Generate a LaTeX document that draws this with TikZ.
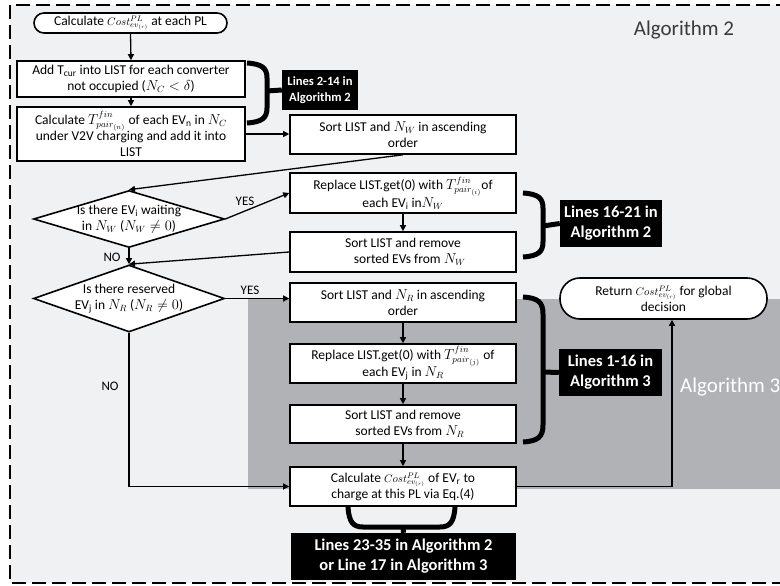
\documentclass[tikz,border=0pt]{standalone}
\usepackage{fontspec}
\setmainfont{Carlito}
\usetikzlibrary{arrows.meta,shapes.geometric,calc}
\definecolor{bgl}{HTML}{F0F1F3}
\definecolor{alg3}{HTML}{B1B2B6}
\definecolor{algtxt}{HTML}{3A3A3A}
\newcommand{\costr}{{\fontsize{11}{13}\selectfont$Cost^{PL}_{ev_{(r)}}$}}
\begin{document}
\begin{tikzpicture}[x=1pt,y=-1pt,
  every node/.style={font=\fontsize{13.5}{16}\selectfont},
  box/.style={draw=black,line width=1.6pt,fill=white,rectangle,align=center,inner sep=0pt,minimum width=226pt},
  pill/.style={draw=black,line width=1.6pt,fill=white,rounded corners=10pt,align=center,inner sep=0pt},
  dia/.style={draw=black,line width=1.6pt,fill=white,diamond,inner sep=0pt,minimum width=191pt},
  dtext/.style={align=center,inner sep=0pt},
  lbl/.style={fill=black,text=white,align=center,inner sep=0pt},
  lbla/.style={lbl,font=\fontsize{12.6}{16}\selectfont\bfseries},
  lblb/.style={lbl,font=\fontsize{16.5}{20}\selectfont\bfseries},
  arr/.style={draw=black,line width=1.3pt,-{Triangle[length=6pt,width=6pt]}},
  brc/.style={draw=black,line width=5pt},
  yn/.style={inner sep=0pt,font=\fontsize{13}{15}\selectfont}
]
\useasboundingbox (0,0) rectangle (780,586);
% background
\fill[bgl] (10,5) rectangle (790,583);
\fill[alg3] (248,298.5) rectangle (790,489);
\draw[line width=2pt,dash pattern=on 14pt off 6pt] (790,5) -- (10,5) -- (10,583) -- (790,583);
\node[anchor=center,text=algtxt,font=\fontsize{21}{24}\selectfont] (a2) at (684,30) {Algorithm 2};
\node[anchor=west,text=white,font=\fontsize{21}{24}\selectfont,inner sep=0pt] (a3) at (680,387) {Algorithm 3};

% nodes
\node[pill,minimum width=193pt,minimum height=20pt] (start) at (130.5,23) {Calculate \costr\ at each PL};
\node[box,minimum width=228pt,minimum height=36pt] (b2) at (131,79) {Add T\textsubscript{cur} into LIST for each converter\\ not occupied ($N_C<\delta$)};
\node[box,minimum width=228pt,minimum height=54pt] (b3) at (131,134) {Calculate $T^{fin}_{pair_{(n)}}$ of each EV\textsubscript{n} in $N_C$\\ under V2V charging and add it into\\ LIST};
\node[box,minimum height=39pt] (sortW) at (403,134.5) {Sort LIST and $N_W$ in ascending\\ order};
\node[dia,minimum height=57pt] (d1) at (129,219) {};
\node[dtext] at (d1) {Is there EV\textsubscript{i} waiting\\ in $N_W$ ($N_W\neq 0$)};
\node[box,minimum height=40pt] (replW) at (403,193) {Replace LIST.get(0) with $T^{fin}_{pair_{(i)}}$of\\ each EV\textsubscript{i} in$N_W$};
\node[box,minimum height=40pt] (remW) at (403,252) {Sort LIST and remove\\ \quad sorted EVs from $N_W$};
\node[dia,minimum height=67pt] (d2) at (129,298.5) {};
\node[dtext] at (d2) {Is there reserved\\ EV\textsubscript{j} in $N_R$ ($N_R\neq 0$)};
\node[box,minimum height=39pt] (sortR) at (403,302.5) {Sort LIST and $N_R$ in ascending\\ order};
\node[box,minimum height=39pt] (replR) at (403,363.5) {Replace LIST.get(0) with $T^{fin}_{pair_{(j)}}$ of\\ each EV\textsubscript{j} in $N_R$};
\node[box,minimum height=38pt] (remR) at (403,424) {Sort LIST and remove\\ \quad sorted EVs from $N_R$};
\node[box,minimum height=39pt] (calc) at (403,486.5) {Calculate \costr\ of EV\textsubscript{r} to\\ charge at this PL via Eq.(4)};
\node[pill,minimum width=207pt,minimum height=41pt,rounded corners=20pt] (ret) at (663.5,298.5) {Return \costr\ for global\\ decision};

% labels
\node[lbla,minimum width=76pt,minimum height=40pt] (L1) at (320,90) {Lines 2-14 in\\ Algorithm 2};
\node[lblb,minimum width=102pt,minimum height=47pt] (L2) at (611,223.5) {Lines 16-21 in\\ Algorithm 2};
\node[lblb,minimum width=103pt,minimum height=47pt] (L3) at (610.5,372.5) {Lines 1-16 in\\ Algorithm 3};
\node[lblb,minimum width=225pt,minimum height=47pt] (L4) at (403.5,556.5) {Lines 23-35 in Algorithm 2\\ or Line 17 in Algorithm 3};

% connectors
\draw[arr] (start.south) -- (b2.north);
\draw[arr] (b2.south) -- (b3.north);
\draw[arr] (b3.east) -- (b3.east -| sortW.west);
\draw[arr] (sortW.south) -- (d1.north);
\draw[arr] (d1.east) -- (replW.west);
\node[yn] (yes1) at (245,201) {YES};
\draw[arr] (replW.south) -- (remW.north);
\draw[arr] (remW.west) -- (d2.north);
\draw[arr] (d1.south) -- (d2.north);
\node[yn] (no1) at (112,257) {NO};
\draw[arr] (d2.east) -- (d2.east -| sortR.west);
\node[yn] (yes2) at (250,290) {YES};
\draw[arr] (sortR.south) -- (replR.north);
\draw[arr] (replR.south) -- (remR.north);
\draw[arr] (remR.south) -- (calc.north);
\draw[arr] (d2.south) |- (calc.west);
\node[yn] (no2) at (110,386) {NO};
\coordinate (retin) at ($(ret.south)+(8.5,0)$);
\draw[arr] (calc.east) -| (retin);

% braces
\draw[brc] (247,63) .. controls (262,64) and (267,68) .. (267,78) -- (267,108) .. controls (267,118) and (262,122) .. (247,123);
\draw[brc] (267,91) -- (L1.west);
\draw[brc] (523,193) .. controls (538,194) and (543,198) .. (543,208) -- (543,242) .. controls (543,252) and (538,256) .. (523,257);
\draw[brc] (543,226) -- (L2.west);
\draw[brc] (523,297) .. controls (538,298) and (543,302) .. (543,314) -- (543,425) .. controls (543,437) and (538,441) .. (523,442);
\draw[brc] (543,372) -- (L3.west);
\draw[brc] (348,507) .. controls (349,522) and (353,527) .. (363,527) -- (440,527) .. controls (450,527) and (454,522) .. (455,507);
\draw[brc] (403,527) -- (L4.north);
\end{tikzpicture}
\end{document}
